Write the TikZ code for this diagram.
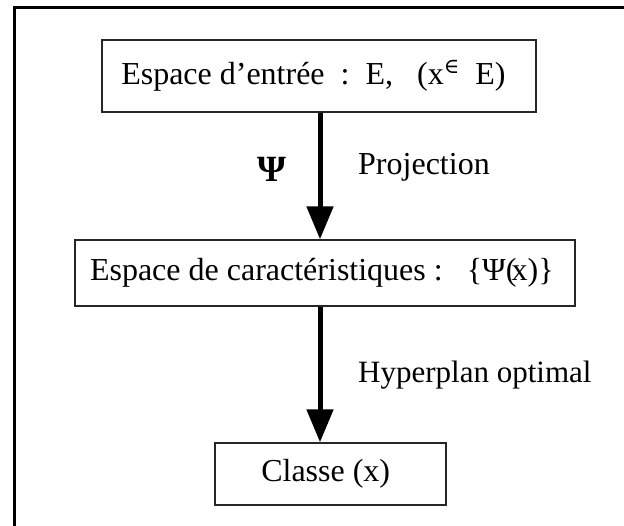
\documentclass[tikz,border=0pt]{standalone}
\usepackage{fontspec}
\setmainfont{Liberation Serif}
\newfontfamily\symfam{DejaVu Serif}
\usetikzlibrary{arrows.meta}
\begin{document}
\begin{tikzpicture}[x=1pt,y=-1pt,
  box/.style={draw=black!85,line width=1.4pt,inner sep=0pt,
    font=\fontsize{32}{38}\selectfont},
  lbl/.style={inner sep=0pt,font=\fontsize{32}{38}\selectfont},
  flow/.style={line width=5pt,-{Triangle[width=26pt,length=33pt]}}]
\useasboundingbox (0,0) rectangle (624,526);
% open frame: top and left sides
\draw[line width=3pt] (14.2,526) -- (14.2,7.8) -- (624,7.8);
% stages
\node[box,minimum width=434pt,minimum height=72pt] (input) at (319,76)
  {\kern-0.35em Espace d’entrée\ \ :\ \ E,\ \ \ (x\raisebox{0.36em}{\symfam\fontsize{21}{21}\selectfont ∈}\ \ E)};
\node[box,minimum width=500pt,minimum height=66pt] (feat) at (325,273)
  {\kern-0.2em Espace de caractéristiques :\ \ \ \{Ψ(\kern-0.15em x)\}};
\node[box,minimum width=231pt,minimum height=62pt] (cls) at (330.5,474)
  {\kern-0.3em Classe (x)};
% connectors
\draw[flow] (input.south -| 320,0) -- (feat.north -| 320,0);
\draw[flow] (feat.south -| 320,0) -- (cls.north -| 320,0);
% labels
\node[lbl,font=\fontsize{37}{40}\selectfont\bfseries] (psi) at (272,169) {Ψ};
\node[lbl,anchor=west] (proj) at (358,167) {Projection};
\node[lbl,anchor=west,font=\fontsize{31}{36}\selectfont] (hyp) at (358,375) {Hyperplan optimal};
\end{tikzpicture}
\end{document}
